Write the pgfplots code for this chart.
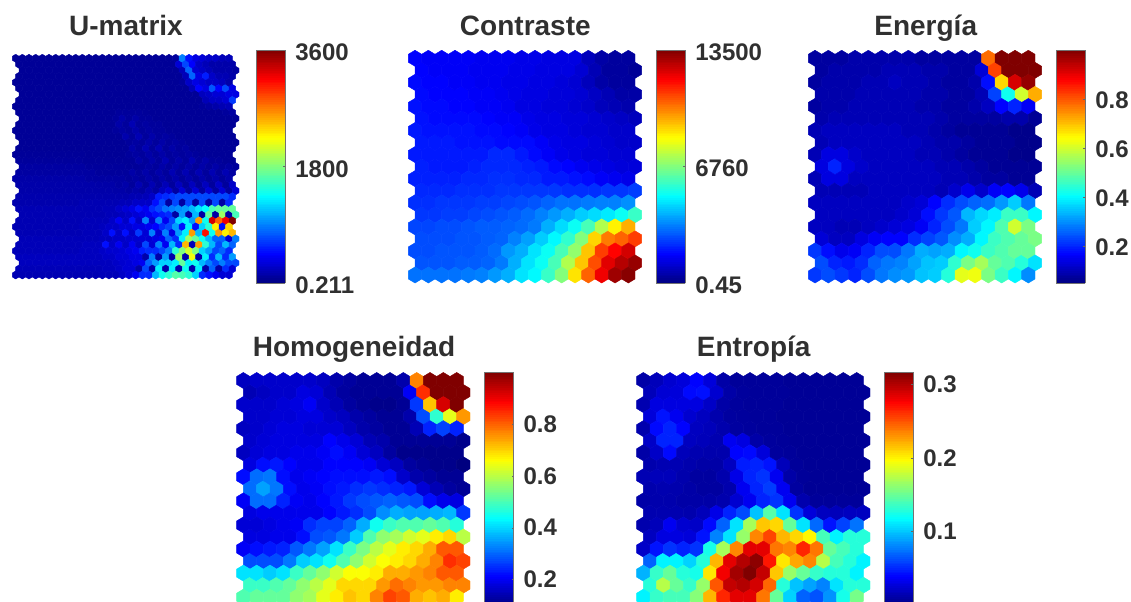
\documentclass[border=0pt]{standalone}
\usepackage{pgfplots}
\usepackage{pgfplotstable}
\usepackage{fontspec}
\setmainfont{Liberation Sans}
\pgfplotsset{compat=1.18}
\definecolor{txt}{HTML}{303030}
\pgfdeclareplotmark{hex}{%
  \pgfpathmoveto{\pgfqpoint{0pt}{1.204\pgfplotmarksize}}%
  \pgfpathlineto{\pgfqpoint{\pgfplotmarksize}{0.602\pgfplotmarksize}}%
  \pgfpathlineto{\pgfqpoint{\pgfplotmarksize}{-0.602\pgfplotmarksize}}%
  \pgfpathlineto{\pgfqpoint{0pt}{-1.204\pgfplotmarksize}}%
  \pgfpathlineto{\pgfqpoint{-\pgfplotmarksize}{-0.602\pgfplotmarksize}}%
  \pgfpathlineto{\pgfqpoint{-\pgfplotmarksize}{0.602\pgfplotmarksize}}%
  \pgfpathclose\pgfusepathqfillstroke}
\pgfplotsset{
  hexplot/.style={scatter, only marks, mark=hex, mark size=5pt, line width=0.3pt,
    point meta=explicit, scatter/use mapped color={draw=mapped color, fill=mapped color}},
  hexaxis/.style={hide axis, clip=false, anchor=south west, x=10pt, y=9.03pt,
    xmin=0, xmax=16.5, ymin=0, ymax=18, colormap/jet, colorbar sampled},
  barstyle/.style={at={(parent axis.north east)}, anchor=north west, scale only axis,
    width=21.75pt, height=174.75pt, samples=129, xtick=\empty, tick align=inside,
    major tick length=1.5pt, axis line style={draw=black!55, line width=0.4pt},
    ytick style={draw=black!60, line width=0.4pt}, ytick pos=right,
    yticklabel pos=right, typeset ticklabels with strut,
    yticklabel style={font=\fontsize{18}{20}\selectfont\bfseries, text=txt,
      anchor=west, inner sep=0pt, xshift=7.25pt, yshift=-2pt}},
}
% Contraste, in hundreds
\pgfplotstableread[header=false]{
17 16 16 16 16 15 15 15 14 14 13 13 13 8 5 4 4
17 16 16 16 15 15 15 14 14 13 13 13 11 7 4 4 3
18 17 17 16 16 15 15 14 14 13 13 12 11 8 5 4 4
18 17 17 17 16 16 15 14 13 13 12 12 11 9 7 5 5
19 18 18 17 17 16 16 15 13 13 12 12 11 10 8 7 6
19 18 18 18 18 17 16 16 14 13 13 12 12 11 10 9 8
20 19 19 19 19 18 18 17 16 14 13 13 12 11 11 10 10
20 20 20 19 19 19 18 18 18 16 14 13 13 12 11 10 10
20 20 20 20 20 20 22 22 20 18 16 14 13 12 12 11 11
21 20 20 20 21 22 22 22 21 20 18 17 15 14 13 12 12
21 21 21 21 22 22 23 23 22 22 20 20 19 18 16 15 14
22 22 22 23 23 23 24 24 24 24 24 23 23 23 24 24 25
23 23 24 24 24 25 25 26 27 28 30 32 32 33 34 34 36
24 24 25 25 26 27 28 29 31 34 37 40 44 46 48 52 58
26 26 27 27 28 29 29 30 31 33 40 46 52 60 74 86 95
27 27 27 28 28 29 30 34 38 44 50 57 68 90 102 105 110
27 27 28 28 28 29 31 37 40 47 52 60 70 92 110 118 124
28 28 28 29 29 30 33 40 47 52 60 74 92 108 122 128 132
32 32 32 32 33 34 37 40 47 50 58 68 88 105 120 131 134
}\tblC
% Energia, in hundredths
\pgfplotstableread[header=false]{
8 8 8 9 9 9 9 9 8 8 8 8 8 78 100 100 100
8 9 9 9 9 10 10 10 9 9 8 8 13 82 100 100 100
8 9 9 9 10 10 11 10 10 9 8 8 9 18 68 92 98
9 9 9 10 10 10 10 10 9 9 8 8 10 23 42 60 72
8 9 9 10 10 10 10 10 9 9 8 8 9 11 17 20 16
9 10 10 10 10 10 10 10 10 9 8 8 8 8 9 9 7
10 11 11 11 11 11 11 10 10 9 8 7 7 7 7 6 6
10 11 11 11 11 11 11 11 10 9 9 8 7 7 7 6 6
10 14 14 12 11 11 11 11 10 10 9 8 7 7 7 6 6
14 20 14 12 11 11 11 11 11 10 10 9 8 7 7 7 7
10 14 14 11 11 11 11 11 11 11 10 10 9 8 8 7 7
10 10 10 10 11 11 11 11 11 10 12 15 12 16 17 15 10
11 11 11 11 11 11 11 12 13 17 21 24 26 27 31 36 28
11 11 11 11 11 11 12 13 18 22 25 34 37 39 46 46 40
11 11 10 10 11 12 13 14 16 20 24 28 36 40 48 60 52
13 11 11 14 16 17 17 21 23 25 30 33 40 46 48 50 52
22 18 15 16 20 24 24 28 33 32 33 40 42 46 48 50 50
24 20 19 21 26 28 29 32 35 36 45 52 56 50 48 44 38
22 24 22 20 24 28 30 31 35 36 44 62 63 52 46 40 30
}\tblE
% Homogeneidad
\pgfplotstableread[header=false]{
11 12 12 12 12 12 11 9 8 7 7 7 9 76 100 100 100
10 11 12 12 14 13 10 8 7 7 7 7 16 84 100 100 100
12 12 12 13 14 16 12 10 8 7 6 6 7 22 70 92 100
12 12 13 13 14 14 12 11 9 8 7 7 9 24 45 62 74
11 12 13 14 14 13 13 13 11 9 8 7 7 10 20 23 20
12 13 14 14 14 14 17 15 13 10 9 7 7 7 7 7 6
11 13 14 14 15 15 16 18 16 13 11 8 6 6 6 6 6
14 18 19 17 15 15 17 17 17 16 13 11 8 7 6 6 5
18 27 28 18 15 16 17 18 18 18 19 18 12 9 8 7 7
27 32 28 18 15 16 18 19 21 22 21 20 19 13 10 8 7
16 27 27 20 16 15 17 19 22 24 25 26 25 24 18 15 14
14 15 15 15 15 15 17 19 21 24 30 33 32 32 33 34 22
13 13 14 15 16 21 23 23 26 33 42 46 48 48 50 48 44
14 14 15 15 18 24 25 28 36 48 54 56 60 62 66 68 58
16 18 19 20 25 28 32 38 46 52 58 62 66 68 72 80 80
24 24 24 28 36 38 42 48 54 60 64 66 68 72 76 84 82
38 38 36 38 46 50 54 60 64 64 66 72 72 74 76 80 80
46 46 48 50 54 58 62 68 68 68 74 78 76 74 74 76 76
48 50 50 50 54 56 62 66 70 68 76 82 80 72 70 72 66
}\tblH
% Entropia, in thousandths
\pgfplotstableread[header=false]{
12 18 25 28 40 28 12 8 8 8 8 7 7 7 7 7 7
18 26 28 42 44 25 12 9 8 8 8 7 7 7 7 7 7
15 30 30 30 30 22 12 9 8 8 8 7 7 7 7 7 7
28 45 35 25 20 14 10 9 8 8 7 7 7 7 7 7 7
14 42 50 40 20 18 14 10 9 8 8 7 7 7 7 7 7
22 50 50 20 18 15 35 30 12 9 8 7 7 7 7 7 7
12 22 42 18 15 14 14 40 42 28 9 8 7 7 7 7 7
14 16 16 14 12 12 20 48 50 45 18 8 7 7 7 7 7
16 18 18 14 10 10 14 32 50 55 35 12 8 7 7 7 7
14 15 14 12 10 10 14 35 50 58 35 10 7 7 7 7 7
12 14 14 12 12 12 14 25 35 50 55 35 14 8 8 8 8
15 15 15 14 18 32 50 62 100 145 110 55 28 20 18 20 20
14 18 35 25 22 42 70 110 170 215 210 150 110 72 45 60 75
20 30 30 28 45 80 110 165 235 255 220 210 200 140 115 130 130
22 45 55 50 55 125 170 235 285 285 240 235 265 240 150 140 130
70 115 115 105 130 220 285 300 312 270 205 225 235 175 140 130 115
95 135 150 130 125 205 280 305 316 295 215 165 150 135 130 130 115
130 175 150 135 165 250 295 300 290 245 130 100 90 80 110 130 130
115 135 140 140 160 220 265 285 285 240 150 105 70 65 85 125 155
}\tblS
% U-matrix, in tens
\pgfplotstableread[header=false]{
8 8 8 8 8 8 8 8 8 8 8 8 8 8 8 8 8 8 8 8 8 8 8 8 10 90 50 35 30 25 25 20 20
8 8 8 8 8 8 8 8 8 8 8 8 8 8 8 8 8 8 8 8 8 8 8 8 30 70 45 25 20 15 15 15 15
8 8 8 8 8 8 8 8 8 8 8 8 8 8 8 8 8 8 8 8 8 8 8 8 20 80 30 25 20 15 15 15 12
8 8 8 8 8 8 8 8 8 8 8 8 8 8 8 8 8 8 8 8 8 8 8 8 8 20 80 35 55 25 18 18 15
8 8 8 8 8 8 8 8 8 8 8 8 8 8 8 8 8 8 8 8 8 8 8 8 8 10 25 35 30 25 25 22 15
8 8 8 8 8 8 8 8 8 8 8 8 8 8 8 8 8 8 8 8 8 8 8 8 8 8 20 45 35 75 45 70 35
8 8 8 8 8 8 8 8 8 8 8 8 8 8 8 8 8 8 8 8 8 8 8 8 8 8 8 22 25 30 30 35 35
8 8 8 8 8 8 8 8 8 8 8 8 8 8 8 8 8 8 8 8 8 8 8 8 8 8 8 8 20 25 25 30 65
8 8 8 8 8 8 8 8 8 8 8 8 8 8 8 8 8 8 8 8 8 8 8 8 8 8 8 8 10 12 15 18 20
8 8 8 8 8 8 8 8 8 8 8 8 8 8 8 10 10 10 10 9 8 8 8 8 8 8 8 8 8 8 8 10 12
8 8 8 8 8 8 8 8 8 8 8 8 8 8 10 15 10 14 10 10 8 8 8 8 8 8 8 8 8 8 8 8 8
8 8 8 8 8 8 8 8 8 8 8 8 8 8 8 14 10 18 10 12 10 10 8 8 8 8 8 8 8 8 8 8 8
8 8 8 8 8 8 8 8 8 8 8 8 8 8 8 10 12 10 15 10 12 10 10 8 8 8 8 8 8 8 8 8 8
8 8 8 8 8 8 8 8 8 8 8 8 8 8 8 8 16 10 18 10 15 10 12 10 8 8 8 8 8 8 8 8 8
8 8 8 8 8 8 8 8 8 8 8 8 8 8 8 8 10 12 10 15 10 14 10 12 10 8 8 8 8 8 8 8 8
8 8 8 8 8 8 8 8 8 8 8 8 8 8 8 8 8 15 10 18 10 18 10 14 10 12 8 8 8 8 8 8 8
9 9 9 9 9 9 9 9 9 9 9 8 8 8 8 8 8 10 12 10 14 10 14 10 12 10 12 10 8 8 8 8 8
10 10 10 10 10 10 10 10 10 10 9 9 9 9 9 9 9 9 14 10 15 10 18 10 15 10 18 10 15 10 10 8 8
12 12 12 12 12 12 12 12 12 12 10 10 10 10 10 10 9 9 10 12 10 14 10 14 10 14 10 14 10 14 10 12 10
12 12 12 12 12 12 12 12 12 12 12 12 10 10 10 10 10 14 10 15 10 15 10 18 10 18 10 18 10 18 10 18 12
14 14 14 14 14 14 14 14 14 14 14 12 12 12 12 12 12 10 12 10 14 10 14 10 15 10 15 10 15 10 15 10 15
15 15 15 15 15 15 15 15 15 15 15 15 14 14 14 12 15 10 18 10 18 10 20 10 22 10 22 10 22 10 25 10 25
15 15 15 15 15 15 15 15 15 15 15 15 15 15 14 14 12 15 12 18 12 22 30 12 30 12 30 12 30 12 30 12 30
16 16 16 16 16 16 16 16 16 16 16 16 16 16 16 16 16 18 18 20 25 55 60 65 70 70 70 70 70 70 70 70 60
16 16 16 16 16 16 16 16 16 16 18 18 18 18 18 18 20 20 25 25 25 50 70 12 70 12 70 12 70 12 70 12 60
18 18 18 18 18 18 18 18 18 18 18 18 18 20 20 25 30 35 50 40 60 70 85 90 95 100 110 125 135 160 170 170 170
18 18 18 18 18 18 18 18 18 18 18 18 18 20 20 22 25 30 35 40 50 55 60 12 100 15 110 12 170 12 190 12 160
18 18 18 18 18 18 18 18 18 18 20 20 20 20 25 40 25 50 25 90 30 90 40 70 120 130 100 260 140 330 280 320 360
18 18 18 18 18 18 18 18 18 18 20 20 20 22 25 25 30 30 35 35 40 45 60 70 100 50 130 50 120 150 230 50 240
18 18 18 18 18 18 18 18 18 18 20 20 20 25 50 25 50 25 65 30 90 30 90 35 100 130 260 110 310 140 260 230 250
20 20 20 20 20 20 20 20 20 20 20 20 22 22 25 25 28 28 30 30 35 40 80 60 130 190 170 140 110 80 80 30 90
20 20 20 20 20 20 20 20 20 20 22 22 22 50 25 40 25 40 25 70 30 90 40 110 60 250 20 260 150 110 70 110 80
20 20 20 20 20 20 20 20 20 20 22 22 22 25 28 28 30 35 40 55 60 60 70 90 150 180 210 180 120 100 70 80 60
22 22 22 22 22 22 22 22 22 22 22 22 22 25 25 30 30 35 35 15 90 15 100 15 190 15 220 15 130 60 110 60 100
22 22 22 22 22 22 22 22 22 22 22 22 22 22 25 28 30 35 40 80 100 120 120 130 170 130 140 110 90 70 90 70 70
20 20 20 20 20 20 20 20 20 20 20 20 20 22 22 25 30 30 15 70 15 130 15 130 15 140 15 130 15 80 15 60 30
18 18 18 18 18 18 18 18 18 18 18 18 18 20 20 20 25 30 40 60 60 110 140 150 165 160 150 120 60 50 40 30 30
}\tblU
\begin{document}
\begin{tikzpicture}
\useasboundingbox (0,0) rectangle (848.25pt,451.5pt);
\clip (0,0) rectangle (848.25pt,451.5pt);
% U-matrix
\begin{axis}[hexaxis, at={(11.75pt,245.25pt)}, x=5pt, y=4.515pt, xmax=32.5, ymax=36,
  colorbar, point meta min=0, point meta max=360,
  colorbar style={barstyle, xshift=9.55pt, yshift=6.2pt,
    yticklabel style={yshift=-2pt},
    ytick={0,180,360}, yticklabels={0.211,1800,3600}}]
\pgfplotsinvokeforeach{0,...,32}{
  \addplot[hexplot, mark size=2.5pt] table[x expr={#1+1-abs(mod(\coordindex,4)-2)/2},
    y expr={36-\coordindex}, meta index=#1]{\tblU};
}
\end{axis}
% Contraste
\begin{axis}[hexaxis, at={(311.25pt,245.25pt)},
  colorbar, point meta min=0, point meta max=135,
  colorbar style={barstyle, xshift=7.5pt, yshift=6.2pt,
    yticklabel style={yshift=-2pt},
    ytick={0,67.6,135}, yticklabels={0.45,6760,13500}}]
\pgfplotsinvokeforeach{0,...,16}{
  \addplot[hexplot] table[x expr={#1+0.5*mod(\coordindex,2)},
    y expr={18-\coordindex}, meta index=#1]{\tblC};
}
\end{axis}
% Energia
\begin{axis}[hexaxis, at={(611.25pt,245.25pt)},
  colorbar, point meta min=5, point meta max=100,
  colorbar style={barstyle, xshift=7.5pt, yshift=6.2pt,
    yticklabel style={yshift=-1pt},
    ytick={20,40,60,80}, yticklabels={0.2,0.4,0.6,0.8}}]
\pgfplotsinvokeforeach{0,...,16}{
  \addplot[hexplot] table[x expr={#1+0.5*mod(\coordindex,2)},
    y expr={18-\coordindex}, meta index=#1]{\tblE};
}
\end{axis}
% Homogeneidad
\begin{axis}[hexaxis, at={(182.5pt,3.6pt)},
  colorbar, point meta min=10, point meta max=100,
  colorbar style={barstyle, xshift=7.5pt, yshift=6pt,
    ytick={20,40,60,80}, yticklabels={0.2,0.4,0.6,0.8}}]
\pgfplotsinvokeforeach{0,...,16}{
  \addplot[hexplot] table[x expr={#1+0.5*mod(\coordindex,2)},
    y expr={18-\coordindex}, meta expr={10+0.947*(\thisrowno{#1}-5)}]{\tblH};
}
\end{axis}
% Entropia
\begin{axis}[hexaxis, at={(482.5pt,3.6pt)},
  colorbar, point meta min=0, point meta max=316,
  colorbar style={barstyle, xshift=7.25pt, yshift=6pt,
    ytick={100,200,300}, yticklabels={0.1,0.2,0.3}}]
\pgfplotsinvokeforeach{0,...,16}{
  \addplot[hexplot] table[x expr={#1+0.5*mod(\coordindex,2)},
    y expr={18-\coordindex}, meta index=#1]{\tblS};
}
\end{axis}
\tikzset{ttl/.style={anchor=base, text=txt, inner sep=0pt, font=\fontsize{21}{24}\selectfont\bfseries}}
\node[ttl] at (94.5pt,425pt) {U-matrix};
\node[ttl] at (394pt,425pt) {Contraste};
\node[ttl] at (694.3pt,425pt) {Energía};
\node[ttl] at (265.5pt,184pt) {Homogeneidad};
\node[ttl] at (565.3pt,184pt) {Entropía};
\end{tikzpicture}
\end{document}
